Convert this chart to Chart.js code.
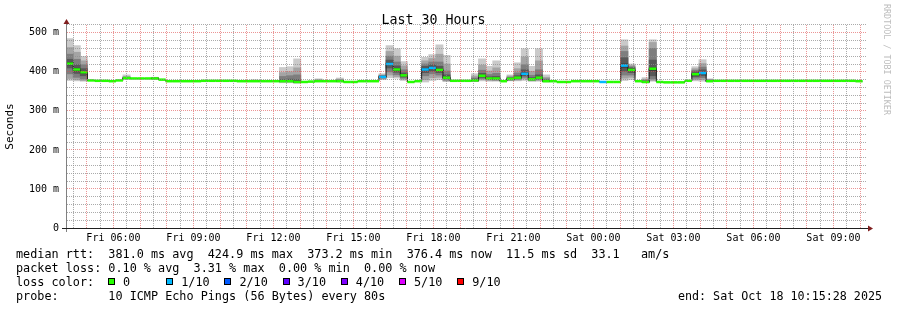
<!DOCTYPE html>
<html lang="en">
<head>
<meta charset="utf-8">
<title>Last 30 Hours</title>
<script src="https://cdn.jsdelivr.net/npm/chart.js@4.4.1/dist/chart.umd.min.js"></script>
<style>
  html, body { margin: 0; padding: 0; background: #ffffff; }
  #graph { position: relative; width: 897px; height: 310px; overflow: hidden;
           font-family: 'DejaVu Sans Mono', monospace; color: #000; }
  #graph canvas { position: absolute; left: 0; top: 0; }
  .line { position: absolute; left: 16px; height: 14px; line-height: 14px;
          font-size: 11.8px; white-space: pre; }
  .item { position: absolute; top: 0; white-space: pre; }
  .box { position: absolute; left: 0; top: 3px; width: 5px; height: 5px; border: 1px solid #000; }
  .item span { position: absolute; left: 15px; top: 0; }
  #endLine { position: absolute; right: 15px; top: 289px; height: 14px; line-height: 14px;
             font-size: 11.7px; white-space: pre; }
  #watermark { position: absolute; left: 882px; top: 4px; writing-mode: vertical-rl;
               font-size: 8.4px; color: #bdbdbd; white-space: pre; }
</style>
</head>
<body>
<div id="graph">
  <canvas id="smokeChart" width="897" height="310"></canvas>
  <div class="line" id="rttLine" style="top:247px"></div>
  <div class="line" id="lossLine" style="top:261px"></div>
  <div class="line" id="colorLine" style="top:275px"></div>
  <div class="line" id="probeLine" style="top:289px"></div>
  <div id="endLine"></div>
  <div id="watermark">RRDTOOL / TOBI OETIKER</div>
</div>
<script>
// Graph window: Fri 04:15:28 .. Sat 10:15:28, one RRD bucket = 16 minutes
const chartTitle = 'Last 30 Hours';
const startClock = 4 + 15 / 60 + 28 / 3600;
const spanHours = 30;
const bucketHours = 16 / 60;
const firstBucketStart = -0.034; // hours after graph start

const xTickLabels = ['Fri 06:00', 'Fri 09:00', 'Fri 12:00', 'Fri 15:00', 'Fri 18:00',
                     'Fri 21:00', 'Sat 00:00', 'Sat 03:00', 'Sat 06:00', 'Sat 09:00'];
const yTickLabels = ['0', '100 m', '200 m', '300 m', '400 m', '500 m'];

// median rtt per bucket (ms)
const medianRtt = [
  421, 406, 399, 378, 377, 377, 376, 378, 384, 383,
  383, 383, 383, 380, 376, 376, 376, 376, 376, 377,
  377, 377, 377, 377, 376, 376, 376, 376, 376, 376,
  376, 376, 374, 374, 375, 376, 376, 376, 376, 374,
  374, 376, 376, 376, 387, 420, 406, 391, 374, 376,
  406, 410, 405, 385, 377, 377, 377, 378, 390, 383,
  383, 376, 382, 385, 395, 381, 385, 376, 376, 374,
  374, 376, 376, 376, 376, 374, 374, 374, 416, 405,
  376, 374, 408, 374, 373, 373, 373, 377, 394, 397,
  376, 377, 377, 377, 377, 377, 377, 377, 377, 377,
  377, 377, 377, 377, 377, 377, 377, 377, 377, 377,
  377, 376
];

// lost pings out of 10 per bucket
const lossTenths = [
  0, 0, 0, 0, 0, 0, 0, 0, 0, 0,
  0, 0, 0, 0, 0, 0, 0, 0, 0, 0,
  0, 0, 0, 0, 0, 0, 0, 0, 0, 0,
  0, 0, 0, 0, 0, 0, 0, 0, 0, 0,
  0, 0, 0, 0, 1, 1, 0, 0, 0, 0,
  1, 1, 0, 0, 0, 0, 0, 0, 0, 0,
  0, 0, 0, 0, 1, 0, 0, 0, 0, 0,
  0, 0, 0, 0, 0, 1, 0, 0, 1, 0,
  0, 0, 0, 0, 0, 0, 0, 0, 0, 1,
  0, 0, 0, 0, 0, 0, 0, 0, 0, 0,
  0, 0, 0, 0, 0, 0, 0, 0, 0, 0,
  0, 0
];

// buckets with visible smoke and their 10 sorted ping times (ms)
const smokeBuckets = [0, 1, 2, 8, 12, 26, 30, 31, 32, 35, 38, 44, 45, 46, 47, 50, 51, 52, 53,
                      57, 58, 59, 60, 62, 63, 64, 65, 66, 67, 78, 79, 81, 82, 88, 89, 90];
const smokePings = [
  [378, 383, 395, 410, 418, 424, 432, 445, 462, 485],
  [377, 380, 386, 396, 403, 409, 418, 432, 450, 467],
  [376, 378, 382, 390, 397, 401, 408, 418, 428, 439],
  [381, 382, 383, 383, 384, 384, 385, 386, 388, 392],
  [381, 382, 382, 383, 383, 383, 384, 384, 385, 386],
  [375, 375, 376, 376, 376, 376, 377, 377, 378, 380],
  [372, 374, 375, 375, 376, 377, 380, 388, 398, 411],
  [372, 374, 375, 376, 376, 377, 381, 390, 400, 413],
  [371, 372, 373, 374, 374, 375, 380, 392, 410, 433],
  [375, 375, 376, 376, 376, 377, 377, 378, 380, 382],
  [374, 375, 375, 376, 376, 377, 378, 379, 381, 384],
  [380, 382, 384, 386, 387, 388, 389, 390, 392, 395],
  [385, 392, 400, 410, 418, 422, 430, 440, 452, 467],
  [384, 388, 393, 399, 404, 408, 415, 425, 440, 459],
  [378, 381, 384, 387, 390, 392, 397, 405, 415, 426],
  [374, 380, 390, 398, 404, 408, 414, 420, 428, 437],
  [378, 385, 395, 402, 408, 412, 418, 425, 434, 444],
  [380, 386, 392, 398, 403, 407, 414, 425, 445, 469],
  [375, 377, 379, 382, 384, 386, 392, 402, 420, 442],
  [375, 376, 377, 377, 378, 379, 381, 384, 389, 395],
  [377, 380, 383, 386, 389, 391, 396, 404, 417, 433],
  [376, 378, 380, 381, 382, 384, 387, 393, 402, 414],
  [376, 378, 379, 381, 382, 384, 388, 396, 410, 428],
  [377, 378, 379, 380, 381, 383, 384, 386, 389, 392],
  [377, 379, 381, 383, 384, 386, 390, 397, 408, 423],
  [378, 382, 386, 390, 394, 397, 405, 418, 438, 459],
  [376, 377, 378, 380, 381, 382, 385, 391, 401, 414],
  [376, 378, 380, 382, 384, 386, 392, 405, 428, 459],
  [374, 375, 375, 376, 376, 377, 379, 382, 386, 392],
  [378, 384, 392, 402, 412, 420, 436, 452, 466, 482],
  [380, 386, 392, 398, 403, 407, 410, 413, 416, 420],
  [372, 373, 373, 374, 374, 375, 376, 378, 381, 385],
  [376, 378, 382, 390, 404, 410, 430, 460, 475, 482],
  [377, 380, 384, 388, 392, 396, 400, 404, 408, 413],
  [376, 380, 385, 390, 395, 399, 405, 412, 421, 431],
  [375, 375, 376, 376, 376, 377, 378, 379, 380, 382]
];

const lossLabels = ['0', '1/10', '2/10', '3/10', '4/10', '5/10', '9/10'];
const lossColors = ['#26ff00', '#00b8ff', '#0059ff', '#5e00ff', '#7e00ff', '#dd00ff', '#ff0000'];

const rttText = 'median rtt:  381.0 ms avg  424.9 ms max  373.2 ms min  376.4 ms now  11.5 ms sd  33.1   am/s';
const lossText = 'packet loss: 0.10 % avg  3.31 % max  0.00 % min  0.00 % now';
const probeText = 'probe:       10 ICMP Echo Pings (56 Bytes) every 80s';
const endText = 'end: Sat Oct 18 10:15:28 2025';

const mono = 'DejaVu Sans Mono';
const smokeShades = ['#cacaca', '#a4a4a4', '#7e7e7e', '#585858', '#323232'];
const majorGrid = 'rgba(222, 79, 79, 0.6)';
const minorGrid = 'rgba(143, 143, 143, 0.75)';

// legend block under the graph
document.getElementById('rttLine').textContent = rttText;
document.getElementById('lossLine').textContent = lossText;
document.getElementById('probeLine').textContent = probeText;
document.getElementById('endLine').textContent = endText;
const colorLine = document.getElementById('colorLine');
colorLine.textContent = 'loss color:';
lossLabels.forEach((label, i) => {
  const item = document.createElement('div');
  item.className = 'item';
  item.style.left = (92 + i * 58.2) + 'px';
  const box = document.createElement('div');
  box.className = 'box';
  box.style.background = lossColors[i];
  const text = document.createElement('span');
  text.textContent = label;
  item.appendChild(box);
  item.appendChild(text);
  colorLine.appendChild(item);
});

function labelOffset(label) {
  const [day, hm] = label.split(' ');
  const [h, m] = hm.split(':').map(Number);
  return (day === 'Sat' ? 24 : 0) + h + m / 60 - startClock;
}
const labelHours = xTickLabels.map(labelOffset);

// grid every half hour (aligned to the clock) and every 20 ms
const gridHours = [];
for (let v = 0.5 - (startClock % 0.5); v <= spanHours; v += 0.5) gridHours.push(v);
const gridMs = [];
for (let v = 0; v <= 520; v += 20) gridMs.push(v);

function isFullHour(v) {
  const c = v + startClock;
  return Math.abs(c - Math.round(c)) < 1e-6;
}

// datasets
const bandData = smokeShades.map(() => []);
const stepData = [];
const medianPoints = [];
medianRtt.forEach((m, k) => {
  const start = firstBucketStart + k * bucketHours;
  const center = start + bucketHours / 2;
  const s = smokeBuckets.indexOf(k);
  smokeShades.forEach((c, i) => {
    bandData[i].push({ x: center, y: s >= 0 ? [smokePings[s][i], smokePings[s][9 - i]] : null });
  });
  stepData.push({ x: start, y: m });
  medianPoints.push({ x: center, y: m });
});
stepData.push({ x: firstBucketStart + medianRtt.length * bucketHours, y: medianRtt[medianRtt.length - 1] });

const datasets = smokeShades.map((color, i) => ({
  type: 'bar',
  data: bandData[i],
  backgroundColor: color,
  borderWidth: 0,
  borderSkipped: false,
  inflateAmount: 0.4,
  grouped: false,
  categoryPercentage: 1,
  barPercentage: 1,
  order: 10 - i
}));
datasets.push({
  type: 'line',
  data: stepData,
  stepped: true,
  borderColor: '#202020',
  borderWidth: 1,
  pointRadius: 0,
  fill: false,
  order: 2
});
datasets.push({
  type: 'line',
  data: medianPoints,
  showLine: false,
  pointStyle: 'line',
  pointRadius: 3.56,
  pointBorderWidth: 2.5,
  pointBorderColor: lossTenths.map(l => lossColors[l]),
  pointBackgroundColor: lossTenths.map(l => lossColors[l]),
  order: 1
});

// rrdtool style axes with arrow heads
const rrdAxes = {
  id: 'rrdAxes',
  afterDraw(chart) {
    const { ctx, chartArea: a } = chart;
    ctx.save();
    ctx.lineWidth = 1;
    ctx.strokeStyle = '#808080';
    ctx.beginPath();
    ctx.moveTo(a.left - 0.5, a.top - 3);
    ctx.lineTo(a.left - 0.5, a.bottom + 4);
    ctx.stroke();
    ctx.strokeStyle = '#1f1f1f';
    ctx.beginPath();
    ctx.moveTo(a.left - 5, a.bottom + 0.5);
    ctx.lineTo(a.right + 2, a.bottom + 0.5);
    ctx.stroke();
    ctx.fillStyle = '#801f1f';
    ctx.beginPath();
    ctx.moveTo(a.left - 3.5, a.top - 1);
    ctx.lineTo(a.left + 2.5, a.top - 1);
    ctx.lineTo(a.left - 0.5, a.top - 6);
    ctx.closePath();
    ctx.fill();
    ctx.beginPath();
    ctx.moveTo(a.right + 1, a.bottom - 2.5);
    ctx.lineTo(a.right + 1, a.bottom + 3.5);
    ctx.lineTo(a.right + 6, a.bottom + 0.5);
    ctx.closePath();
    ctx.fill();
    ctx.restore();
  }
};

new Chart(document.getElementById('smokeChart'), {
  type: 'bar',
  data: { datasets: datasets },
  options: {
    responsive: false,
    animation: false,
    events: [],
    layout: { padding: { left: 0, right: 30, top: 0, bottom: 64 } },
    plugins: {
      legend: { display: false },
      tooltip: { enabled: false },
      title: {
        display: true,
        text: chartTitle,
        color: '#000',
        font: { family: mono, size: 13.3, weight: 'normal', lineHeight: 0.675 },
        padding: { top: 16, bottom: 0 }
      }
    },
    scales: {
      x: {
        type: 'linear',
        min: 0,
        max: spanHours,
        offset: false,
        afterBuildTicks: axis => { axis.ticks = gridHours.map(v => ({ value: v })); },
        afterFit: axis => { axis.height = 18; },
        ticks: {
          autoSkip: false,
          maxRotation: 0,
          padding: 4,
          color: '#000',
          font: { family: mono, size: 10 },
          callback: v => {
            const i = labelHours.findIndex(h => Math.abs(h - v) < 1e-6);
            return i >= 0 ? xTickLabels[i] : '';
          }
        },
        grid: {
          offset: false,
          drawTicks: false,
          z: 1,
          lineWidth: 1,
          color: ctx => isFullHour(ctx.tick.value) ? majorGrid : minorGrid
        },
        border: { display: false, dash: [1, 1] }
      },
      y: {
        min: 0,
        max: 520,
        afterBuildTicks: axis => { axis.ticks = gridMs.map(v => ({ value: v })); },
        afterFit: axis => { axis.width = 67; },
        ticks: {
          autoSkip: false,
          padding: 8,
          color: '#000',
          font: { family: mono, size: 10 },
          callback: v => v % 100 === 0 ? yTickLabels[v / 100] : ''
        },
        grid: {
          drawTicks: false,
          z: 1,
          lineWidth: 1,
          color: ctx => ctx.tick.value % 100 === 0 ? majorGrid : minorGrid
        },
        border: { display: false, dash: [1, 1] },
        title: {
          display: true,
          text: 'Seconds',
          color: '#000',
          font: { family: mono, size: 11 },
          padding: { top: 4, bottom: 0 }
        }
      }
    }
  },
  plugins: [rrdAxes]
});
</script>
</body>
</html>
